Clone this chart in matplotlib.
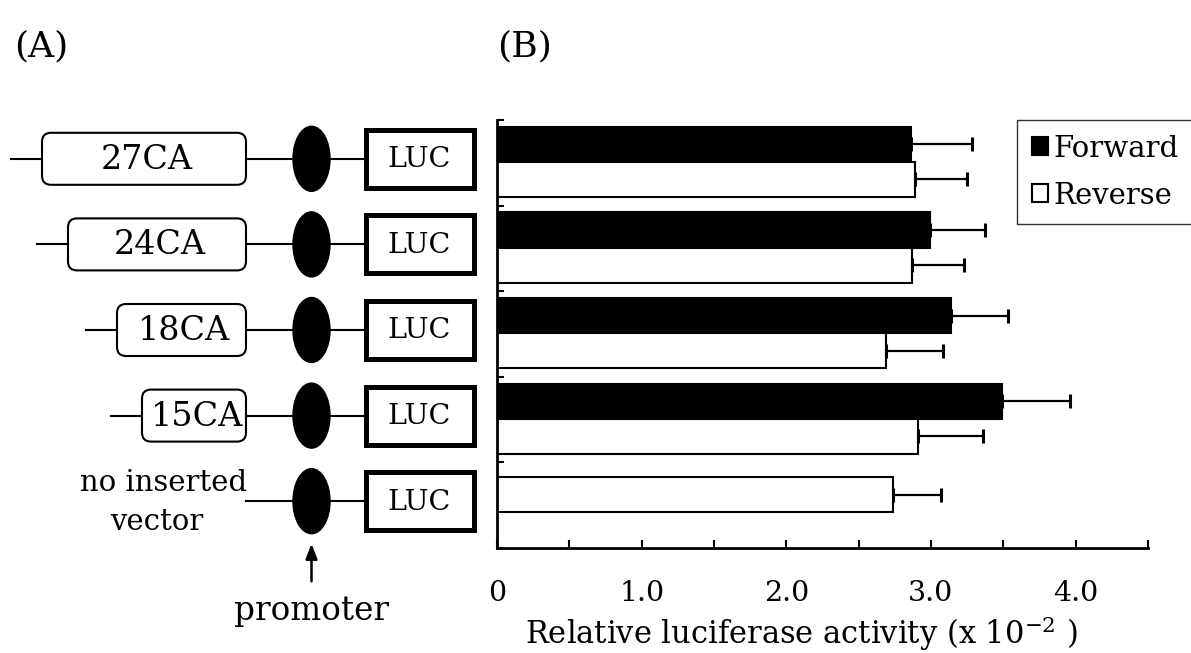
import matplotlib
matplotlib.use('Agg')
import matplotlib.pyplot as plt
import numpy as np
from matplotlib.patches import FancyBboxPatch, Ellipse, Rectangle

plt.rcParams['font.family'] = ['DejaVu Serif']
plt.rcParams['mathtext.fontset'] = 'dejavuserif'

# data
constructs = ['27CA', '24CA', '18CA', '15CA', 'no inserted\nvector']
forward = [2.86, 2.99, 3.14, 3.49, None]
forward_err = [0.42, 0.38, 0.39, 0.47, None]
reverse = [2.89, 2.87, 2.69, 2.91, 2.74]
reverse_err = [0.36, 0.36, 0.39, 0.45, 0.33]
xtick_vals = [0, 0.5, 1.0, 1.5, 2.0, 2.5, 3.0, 3.5, 4.0, 4.5]
xtick_labels = ['0', '', '1.0', '', '2.0', '', '3.0', '', '4.0', '']

W, H = 1191, 653
fig = plt.figure(figsize=(W / 100, H / 100), dpi=100)

# ---- panel A: construct diagram drawn in pixel units
ax0 = fig.add_axes([0, 0, 1, 1])
ax0.set_xlim(0, W)
ax0.set_ylim(H, 0)
ax0.axis('off')

ax_top, ax_bot = 120, 548
pitch = (ax_bot - ax_top) / len(constructs)
box_left = [42, 68, 117, 142]
box_right = 246
ell_x = 311.5
luc_l, luc_r = 363, 476

for i, name in enumerate(constructs):
    yc = ax_top + pitch * (i + 0.5) - 4
    if i < 4:
        bl = box_left[i]
        ax0.plot([bl - 31, bl], [yc, yc], color='black', lw=1.5)
        ax0.add_patch(FancyBboxPatch((bl, yc - 26), box_right - bl, 52,
                                     boxstyle='round,pad=0,rounding_size=9',
                                     fc='white', ec='black', lw=1.5))
        ax0.text((bl + box_right) / 2 + 3, yc + 1, name, fontsize=24,
                 ha='center', va='center')
        ax0.plot([box_right, ell_x], [yc, yc], color='black', lw=1.5)
    else:
        ax0.plot([box_right, ell_x], [yc, yc], color='black', lw=1.5)
        ax0.text(163, yc - 18, 'no inserted', fontsize=21, ha='center', va='center')
        ax0.text(157, yc + 21, 'vector', fontsize=21, ha='center', va='center')
    ax0.plot([ell_x, luc_l], [yc, yc], color='black', lw=1.5)
    ax0.add_patch(Ellipse((ell_x, yc), 37, 65, fc='black', ec='black'))
    ax0.add_patch(Rectangle((luc_l + 2.5, yc - 29), luc_r - luc_l - 5, 58,
                            fc='white', ec='black', lw=3.6))
    ax0.text((luc_l + luc_r) / 2, yc + 1, 'LUC', fontsize=20.5,
             ha='center', va='center')

ax0.annotate('', xy=(ell_x, 541), xytext=(ell_x, 584),
             arrowprops=dict(arrowstyle='-|>,head_length=0.9,head_width=0.35',
                             color='black', lw=1.8))
ax0.text(ell_x, 611, 'promoter', fontsize=23.5, ha='center', va='center')

ax0.text(14, 46, '(A)', fontsize=26, ha='left', va='center')
ax0.text(497, 46, '(B)', fontsize=26, ha='left', va='center')

# ---- panel B: bar chart
ax = fig.add_axes([497 / W, (H - ax_bot) / H, (1148 - 497) / W, (ax_bot - ax_top) / H])
n = len(constructs)
idx = np.arange(n)
h = 0.41

fwd_i = [i for i in idx if forward[i] is not None]
fwd_v = [forward[i] for i in fwd_i]
fwd_e = [forward_err[i] for i in fwd_i]
fwd_pos = np.array(fwd_i) + 0.285
rev_pos = np.array([i + 0.695 if forward[i] is not None else i + 0.375 for i in idx])

b1 = ax.barh(fwd_pos, fwd_v, height=h, color='black', edgecolor='black',
             lw=1.5, label='Forward')
b2 = ax.barh(rev_pos, reverse, height=h, color='white', edgecolor='black',
             lw=1.5, label='Reverse')
ax.errorbar(fwd_v, fwd_pos, xerr=[np.zeros(len(fwd_v)), fwd_e], fmt='none',
            ecolor='black', elinewidth=1.6, capsize=5, capthick=2.2)
ax.errorbar(reverse, rev_pos, xerr=[np.zeros(n), reverse_err], fmt='none',
            ecolor='black', elinewidth=1.6, capsize=5, capthick=2.2)

ax.set_xlim(0, 4.5)
ax.set_ylim(n, 0)
ax.set_xticks(xtick_vals)
ax.set_xticklabels(xtick_labels, fontsize=20.5)
ax.set_yticks(np.arange(n + 1))
ax.set_yticklabels([])
ax.tick_params(axis='x', direction='in', length=6, width=1.5, pad=23)
ax.tick_params(axis='y', direction='in', length=5, width=1.5)
for s in ['top', 'right']:
    ax.spines[s].set_visible(False)
for s in ['left', 'bottom']:
    ax.spines[s].set_linewidth(2)

ax.set_xlabel('Relative luciferase activity (x 10$^{\\mathregular{-2}}$ )', fontsize=22,
              va='baseline')
ax.xaxis.set_label_coords((801 - 497) / 651, (ax_bot - 644) / (ax_bot - ax_top))

leg = ax.legend(handles=[b1, b2], loc='upper left',
                bbox_to_anchor=(1017 / W, 1 - 120 / H), bbox_transform=fig.transFigure,
                fontsize=21, frameon=True, fancybox=False, handlelength=0.55,
                handleheight=0.55, handletextpad=0.2, borderpad=0.5,
                labelspacing=0.65, borderaxespad=0)
leg.get_frame().set_edgecolor('black')
leg.get_frame().set_linewidth(1.0)

fig.savefig('out.png', dpi=100)
